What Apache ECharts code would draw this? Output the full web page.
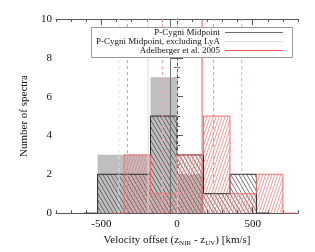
<!DOCTYPE html>
<html><head><meta charset="utf-8">
<script src="https://cdn.jsdelivr.net/npm/echarts@6/dist/echarts.min.js"></script>
<style>html,body{margin:0;padding:0;background:#fff}#c{width:315px;height:252px}</style>
</head><body><div id="c"></div>
<script>
// ---- data ----
const binEdges   = [-525, -350, -175, 0, 175, 350, 525, 700];
const allCounts  = [2, 2, 5, 3, 1, 2, 0];   // P-Cygni Midpoint
const exclCounts = [3, 3, 7, 2, 0, 0, 0];   // P-Cygni Midpoint, excluding LyA
const adelCounts = [0, 3, 1, 3, 5, 1, 2];   // Adelberger et al. 2005
const seriesNames = ['P-Cygni Midpoint', 'P-Cygni Midpoint, excluding LyA', 'Adelberger et al. 2005'];
const means  = [-43, -191, 166];
const sigmas = [285, 193, 262];
const xTickLabels = [-500, 0, 500];
const yTickLabels = [0, 2, 4, 6, 8, 10];

// ---- helpers ----
function bins(counts) {
  const out = [];
  counts.forEach((c, i) => { if (c > 0) out.push([binEdges[i], binEdges[i + 1], c]); });
  return out;
}
function outline(counts) {
  const w = binEdges[1] - binEdges[0];
  let first = counts.findIndex(c => c > 0);
  let last = counts.length - 1 - [...counts].reverse().findIndex(c => c > 0);
  const pts = [[binEdges[first] - w / 2, 0]];
  for (let i = first; i <= last; i++) pts.push([binEdges[i], counts[i]]);
  pts.push([binEdges[last + 1], 0]);
  pts.push([binEdges[last + 1] + w / 2, 0]);
  return pts;
}
function hatchRender(opts) {
  return function (params, api) {
    const x0 = api.value(0), x1 = api.value(1), h = api.value(2);
    const p0 = api.coord([x0, h]), p1 = api.coord([x1, 0]);
    const L = p0[0], R = p1[0], T = p0[1], B = p1[1];
    const children = [];
    if (opts.fill) {
      children.push({ type: 'rect', shape: { x: L, y: T, width: R - L, height: B - T }, style: { fill: opts.fill } });
    }
    if (opts.hatch) {
      const m = opts.slope, s = opts.spacing;
      const cands = [L - T / m, L - B / m, R - T / m, R - B / m];
      const kmin = Math.floor(Math.min(...cands) / s), kmax = Math.ceil(Math.max(...cands) / s);
      for (let k = kmin; k <= kmax; k++) {
        const ks = k * s;
        let ya, yb;
        if (m > 0) { ya = m * (L - ks); yb = m * (R - ks); } else { ya = m * (R - ks); yb = m * (L - ks); }
        ya = Math.max(ya, T); yb = Math.min(yb, B);
        if (yb - ya <= 0.01) continue;
        children.push({ type: 'line', shape: { x1: ks + ya / m, y1: ya, x2: ks + yb / m, y2: yb },
          style: { stroke: opts.hatch, lineWidth: opts.lw } });
      }
    }
    return { type: 'group', children };
  };
}
function vline(v, color, dashed, z) {
  return { type: 'line', data: [[v, 0], [v, 10]], symbol: 'none', silent: true, z,
    lineStyle: { color, width: 1, type: dashed ? [3, 3] : 'solid' }, animation: false };
}

const lineColors = ['#707070', '#dcdcdc', '#f25a5a'];
const dashColors = ['#a8a8a8', '#e2e2e2', '#f5a3a3'];

const series = [
  { type: 'custom', data: bins(exclCounts), renderItem: hatchRender({ fill: '#bfbfbf' }), z: 1, silent: true, animation: false },
  { type: 'custom', data: bins(allCounts), renderItem: hatchRender({ hatch: '#3a3a3a', slope: 1.7, spacing: 4, lw: 0.7 }), z: 2, silent: true, animation: false },
  { type: 'custom', data: bins(adelCounts), renderItem: hatchRender({ hatch: '#ef7272', slope: -3, spacing: 3, lw: 0.7 }), z: 3, silent: true, animation: false },
  { type: 'line', data: outline(allCounts), step: 'end', symbol: 'none', z: 4, silent: true, animation: false, lineStyle: { color: '#2a2a2a', width: 1 } },
  { type: 'line', data: outline(adelCounts), step: 'end', symbol: 'none', z: 4, silent: true, animation: false, lineStyle: { color: '#f07070', width: 1 } }
];
means.forEach((mu, i) => {
  series.push(vline(mu, lineColors[i], false, 5));
  series.push(vline(mu - sigmas[i], dashColors[i], true, 5));
  series.push(vline(mu + sigmas[i], dashColors[i], true, 5));
});

const font = 'Liberation Serif';
const axCol = '#555';
const baseX = { type: 'value', min: -800, max: 800, splitLine: { show: false } };

const chart = echarts.init(document.getElementById('c'), null, { renderer: 'canvas' });
chart.setOption({
  animation: false,
  grid: { left: 56, right: 17, top: 19, bottom: 36 },
  xAxis: [
    Object.assign({}, baseX, {
      position: 'bottom',
      axisLine: { show: true, lineStyle: { color: axCol } },
      axisTick: { show: true, inside: true, length: 6, customValues: xTickLabels, lineStyle: { color: axCol } },
      axisLabel: { customValues: xTickLabels, color: '#111', fontFamily: font, fontSize: 11, margin: 6 },
      name: 'Velocity offset (z{s|NIR} - z{s|UV}) [km/s]', nameLocation: 'middle', nameGap: 16,
      nameTextStyle: { color: '#111', fontFamily: font, fontSize: 11,
        rich: { s: { fontFamily: font, fontSize: 7, verticalAlign: 'bottom', padding: [6, 0, 0, 0], color: '#111' } } }
    }),
    Object.assign({}, baseX, { position: 'bottom', interval: 100, axisLine: { show: false },
      axisTick: { show: true, inside: true, length: 3, lineStyle: { color: axCol } }, axisLabel: { show: false } }),
    Object.assign({}, baseX, { position: 'top',
      axisLine: { show: true, lineStyle: { color: axCol } },
      axisTick: { show: true, inside: true, length: 6, customValues: xTickLabels, lineStyle: { color: axCol } },
      axisLabel: { show: false } }),
    Object.assign({}, baseX, { position: 'top', interval: 100, axisLine: { show: false },
      axisTick: { show: true, inside: true, length: 3, lineStyle: { color: axCol } }, axisLabel: { show: false } })
  ],
  yAxis: [
    { type: 'value', min: 0, max: 10, interval: 2, position: 'left', splitLine: { show: false },
      axisLine: { show: true, lineStyle: { color: axCol } },
      axisTick: { show: true, inside: true, length: 6, lineStyle: { color: axCol } },
      minorTick: { show: true, splitNumber: 4, length: 3, lineStyle: { color: axCol } },
      axisLabel: { color: '#111', fontFamily: font, fontSize: 11, margin: 4 },
      name: 'Number of spectra', nameLocation: 'middle', nameGap: 19,
      nameTextStyle: { color: '#111', fontFamily: font, fontSize: 11 } },
    { type: 'value', min: 0, max: 10, interval: 2, position: 'right', splitLine: { show: false },
      axisLine: { show: true, lineStyle: { color: axCol } },
      axisTick: { show: true, inside: true, length: 6, lineStyle: { color: axCol } },
      minorTick: { show: true, splitNumber: 4, length: 3, lineStyle: { color: axCol } },
      axisLabel: { show: false } }
  ],
  series,
  graphic: [
    { type: 'rect', shape: { x: 91.5, y: 27.5, width: 201, height: 30 }, style: { fill: '#fff', stroke: '#999', lineWidth: 1 }, z: 100 },
    ...seriesNames.map((n, i) => ({ type: 'text', x: 220, y: 32.5 + i * 9, z: 101,
      style: { text: n, fontFamily: font, fontSize: 9, fill: '#111', align: 'right', verticalAlign: 'middle' } })),
    ...seriesNames.map((n, i) => ({ type: 'line', z: 101, shape: { x1: 225, y1: 32.5 + i * 9, x2: 283, y2: 32.5 + i * 9 },
      style: { stroke: lineColors[i], lineWidth: 1 } }))
  ]
});
</script></body></html>
